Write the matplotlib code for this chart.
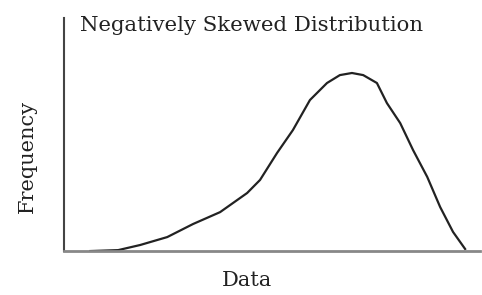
import matplotlib
matplotlib.use("Agg")
import matplotlib.pyplot as plt

# curve (x and y in arbitrary units, 0-100)
data_x = [6.3, 13.0, 18.3, 24.8, 31.0, 37.5, 44.0, 47.1, 51.2, 55.0, 59.1, 63.2,
          66.3, 69.2, 71.9, 75.2, 77.6, 80.8, 83.9, 87.3, 90.4, 93.5, 96.4]
frequency = [0.0, 0.4, 2.6, 6.0, 11.6, 16.7, 24.9, 30.5, 42.1, 51.9, 64.8, 72.1,
             75.5, 76.4, 75.5, 72.1, 63.5, 54.9, 43.3, 31.8, 18.9, 8.2, 0.9]

title = "Negatively Skewed Distribution"
x_label = "Data"
y_label = "Frequency"

plt.rcParams["font.family"] = ["DejaVu Serif"]

fig = plt.figure(figsize=(4.82, 2.95), dpi=100)
ax = fig.add_axes([0.133, 0.149, 0.863, 0.79])

ax.plot(data_x, frequency, color="#222222", linewidth=1.6,
        solid_joinstyle="round")

ax.set_xlim(0, 100)
ax.set_ylim(0, 100)
ax.set_xticks([])
ax.set_yticks([])
ax.spines["top"].set_visible(False)
ax.spines["right"].set_visible(False)
ax.spines["left"].set_color("#444444")
ax.spines["bottom"].set_color("#888888")
ax.spines["left"].set_linewidth(1.5)
ax.spines["bottom"].set_linewidth(2)

fig.text(0.166, 0.915, title, fontsize=15.3, color="#222222", va="center", ha="left")
fig.text(0.512, 0.05, x_label, fontsize=15, color="#222222", ha="center", va="center")
fig.text(0.056, 0.47, y_label, fontsize=15, color="#222222", rotation=90,
         ha="center", va="center")

fig.savefig("out.png", dpi=100)
plt.close(fig)
